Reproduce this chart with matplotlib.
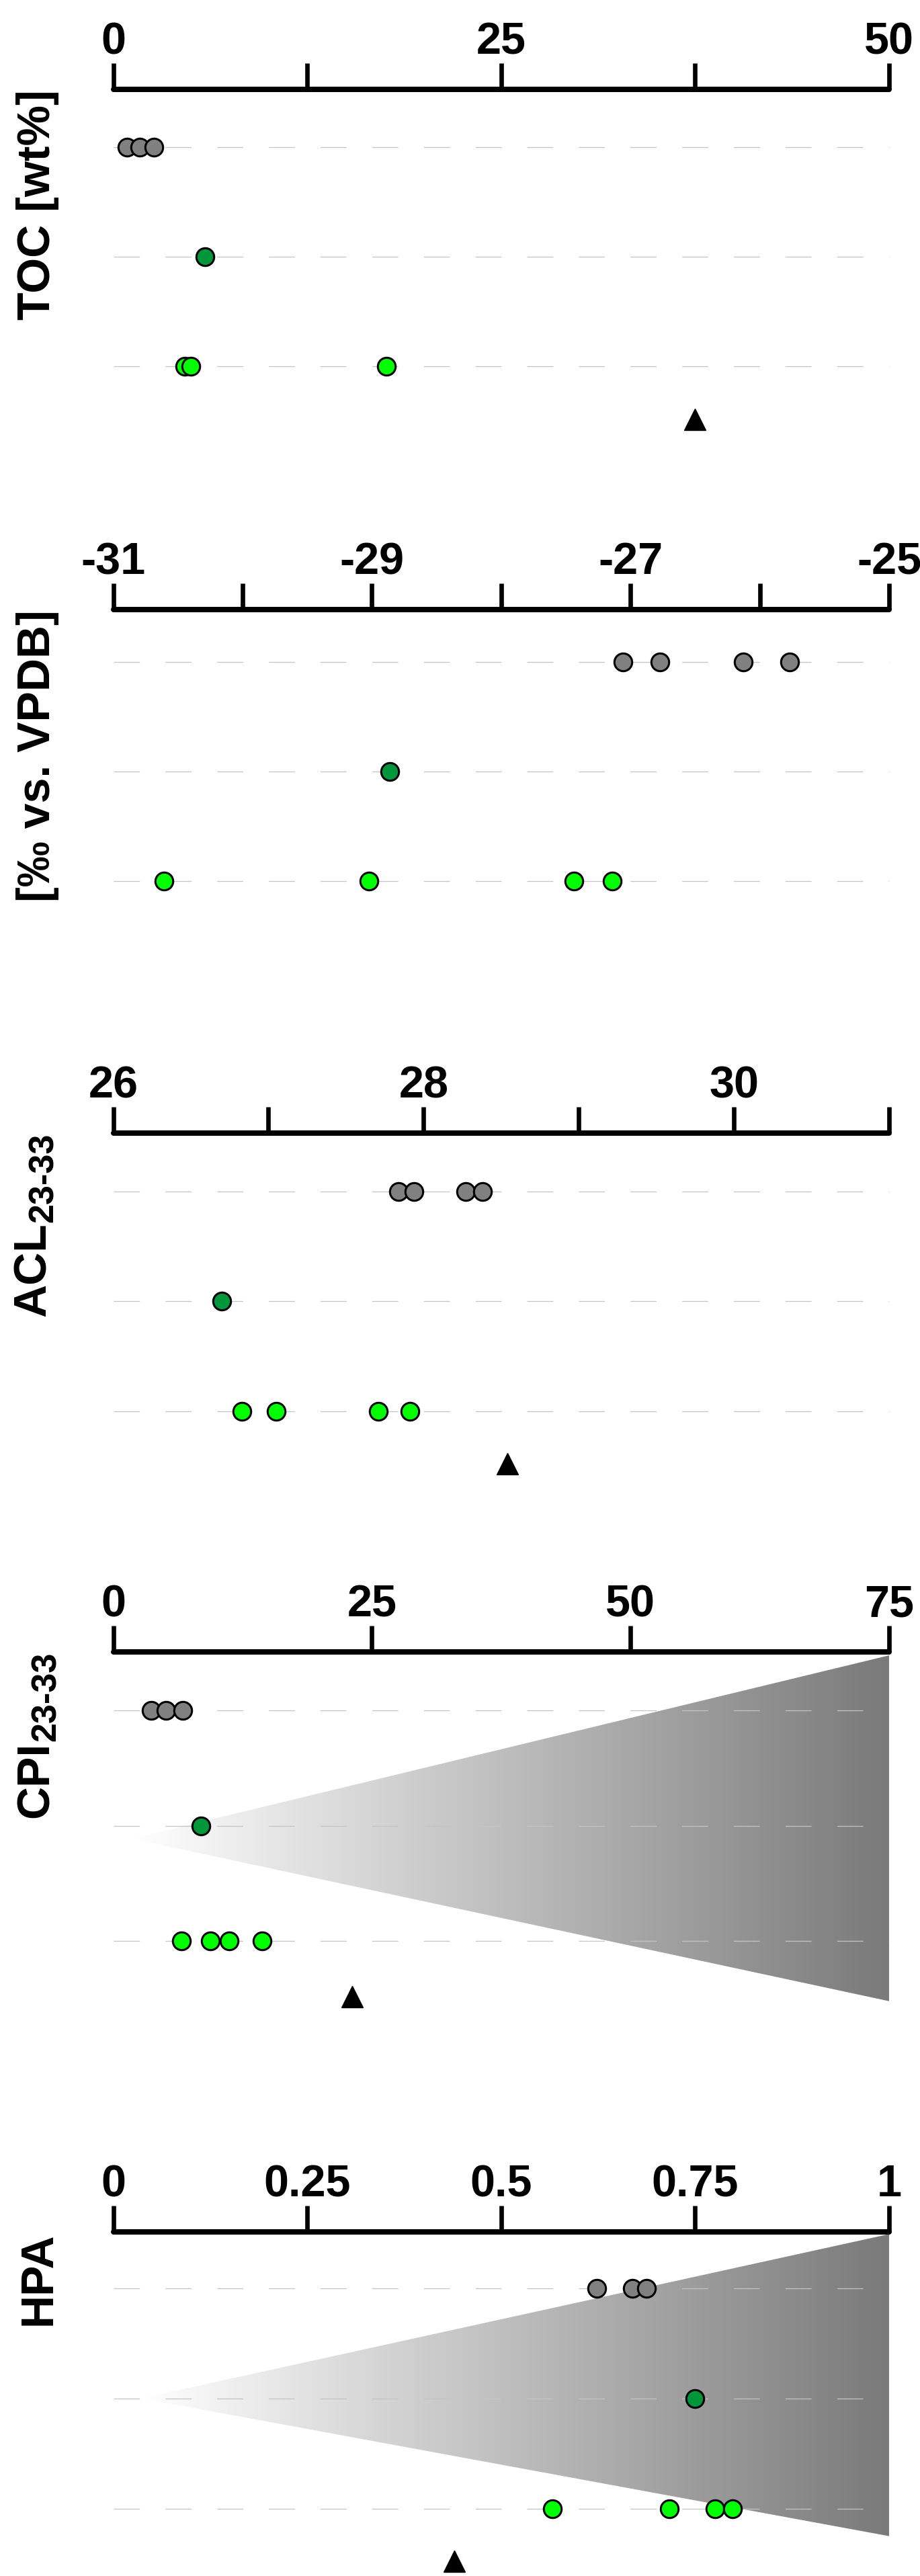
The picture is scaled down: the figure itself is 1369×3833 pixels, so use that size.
import matplotlib
matplotlib.use("Agg")
import matplotlib.pyplot as plt
import numpy as np
from matplotlib.colors import LinearSegmentedColormap
from matplotlib.patches import Polygon

plt.rcParams["font.family"] = ["Liberation Sans", "DejaVu Sans"]
plt.rcParams["font.weight"] = "bold"

W, H, DPI = 1369, 3833, 100

# ---- values ----
# row 1 = grey samples, row 2 = dark green sample, row 3 = light green samples
toc_grey = [0.9, 1.7, 2.6]
toc_dark = [5.9]
toc_light = [4.6, 5.0, 17.6]
toc_ref = 37.5

d13c_grey = [-27.06, -26.77, -26.13, -25.77]
d13c_dark = [-28.86]
d13c_light = [-30.61, -29.02, -27.44, -27.14]

acl_grey = [27.84, 27.94, 28.27, 28.38]
acl_dark = [26.70]
acl_light = [26.83, 27.05, 27.71, 27.91]
acl_ref = 28.54

cpi_grey = [3.7, 5.1, 6.7]
cpi_dark = [8.5]
cpi_light = [6.6, 9.4, 11.2, 14.4]
cpi_ref = 23.1
cpi_wedge_x = [1.8, 75, 75]
cpi_wedge_y = [2.11, 0.52, 3.52]

hpa_grey = [0.623, 0.669, 0.687]
hpa_dark = [0.750]
hpa_light = [0.566, 0.717, 0.776, 0.798]
hpa_ref = 0.44
hpa_wedge_x = [0.036, 1.0, 1.0]
hpa_wedge_y = [2.0, 0.51, 3.25]

toc_ticks = [0, 12.5, 25, 37.5, 50]
toc_labels = ["0", "", "25", "", "50"]
d13c_ticks = [-31, -30, -29, -28, -27, -26, -25]
d13c_labels = ["-31", "", "-29", "", "-27", "", "-25"]
acl_ticks = [26, 27, 28, 29, 30, 31]
acl_labels = ["26", "", "28", "", "30", ""]
cpi_ticks = [0, 25, 50, 75]
cpi_labels = ["0", "25", "50", "75"]
hpa_ticks = [0, 0.25, 0.5, 0.75, 1]
hpa_labels = ["0", "0.25", "0.5", "0.75", "1"]

GREY, DARK, LIGHT = "#808080", "#00963c", "#00ff00"

# panel layout in figure pixels: spine y, row spacing, data y at spine, label baseline x
panels = [
    dict(xlim=(0, 50), ticks=toc_ticks, labels=toc_labels, main="TOC [wt%]", sub=None,
         rows=(toc_grey, toc_dark, toc_light), ref=toc_ref, wedge=None,
         top=133, step=163, ytop=0.47, base_x=74),
    dict(xlim=(-31, -25), ticks=d13c_ticks, labels=d13c_labels, main="[‰ vs. VPDB]", sub=None,
         rows=(d13c_grey, d13c_dark, d13c_light), ref=None, wedge=None,
         top=907, step=163, ytop=0.52, base_x=74),
    dict(xlim=(26, 31), ticks=acl_ticks, labels=acl_labels, main="ACL", sub="23-33",
         rows=(acl_grey, acl_dark, acl_light), ref=acl_ref, wedge=None,
         top=1686, step=163.5, ytop=0.47, base_x=68),
    dict(xlim=(0, 75), ticks=cpi_ticks, labels=cpi_labels, main="CPI", sub="23-33",
         rows=(cpi_grey, cpi_dark, cpi_light), ref=cpi_ref, wedge=(cpi_wedge_x, cpi_wedge_y),
         top=2458, step=171.5, ytop=0.49, base_x=72),
    dict(xlim=(0, 1), ticks=hpa_ticks, labels=hpa_labels, main="HPA", sub=None,
         rows=(hpa_grey, hpa_dark, hpa_light), ref=hpa_ref, wedge=(hpa_wedge_x, hpa_wedge_y),
         top=3321, step=164, ytop=0.49, base_x=75),
]

YBOT = 3.65
LEFT_PX, RIGHT_PX = 168.5, 1323
wedge_cmap = LinearSegmentedColormap.from_list("wedge", ["#ffffff", "#7a7a7a"])

fig = plt.figure(figsize=(W / DPI, H / DPI), dpi=DPI)

for p in panels:
    h_px = (YBOT - p["ytop"]) * p["step"]
    ax = fig.add_axes([LEFT_PX / W, 1 - (p["top"] + h_px) / H,
                       (RIGHT_PX - LEFT_PX) / W, h_px / H])
    x0, x1 = p["xlim"]

    # grey maturity wedge (gradient clipped to a triangle)
    if p["wedge"] is not None:
        wx, wy = p["wedge"]
        grad = np.linspace(0, 1, 256)[None, :]
        im = ax.imshow(grad, cmap=wedge_cmap, aspect="auto", interpolation="bilinear",
                       extent=(min(wx), max(wx), max(wy), min(wy)), zorder=0)
        poly = Polygon(np.column_stack([wx, wy]), closed=True, facecolor="none",
                       edgecolor="none")
        ax.add_patch(poly)
        im.set_clip_path(poly)

    for r in (1, 2, 3):
        ax.plot([x0, x1], [r, r], color="#c4c4c4", lw=0.9, dashes=(31, 30.5), zorder=1,
                clip_on=False)

    for r, (vals, col) in enumerate(zip(p["rows"], (GREY, DARK, LIGHT)), start=1):
        ax.plot(vals, [r] * len(vals), "o", ms=19, mfc=col, mec="black", mew=2.2,
                zorder=3, clip_on=False)

    if p["ref"] is not None:
        ax.plot([p["ref"]], [3.48], "^", ms=23, color="black", zorder=3, clip_on=False)

    ax.set_xlim(x0, x1)
    ax.set_ylim(YBOT, p["ytop"])
    for s in ("left", "right", "bottom"):
        ax.spines[s].set_visible(False)
    ax.spines["top"].set_linewidth(5.8)
    ax.spines["top"].set_capstyle("round")
    ax.set_yticks([])
    ax.xaxis.tick_top()
    ax.set_xticks(p["ticks"])
    ax.set_xticklabels(p["labels"])
    ax.tick_params(axis="x", direction="out", length=28, width=4.8, pad=0,
                   labelsize=48)
    for t in ax.get_xticklabels():
        t.set_fontweight("bold")
    ax.patch.set_alpha(0)

    # rotated y label, its end aligned with the spine
    if p["sub"]:
        st = fig.text((p["base_x"] + 11) / W, 1 - p["top"] / H, p["sub"], fontsize=37.5,
                      fontweight="bold", rotation=90, rotation_mode="anchor",
                      ha="right", va="baseline")
        ax.annotate(p["main"], xy=(p["base_x"] / W, 0), xycoords=("figure fraction", st),
                    fontsize=49, fontweight="bold", rotation=90, rotation_mode="anchor",
                    ha="right", va="baseline", annotation_clip=False)
    else:
        fig.text(p["base_x"] / W, 1 - p["top"] / H, p["main"], fontsize=49,
                 fontweight="bold", rotation=90, rotation_mode="anchor",
                 ha="right", va="baseline")

fig.savefig("out.png", dpi=DPI)
